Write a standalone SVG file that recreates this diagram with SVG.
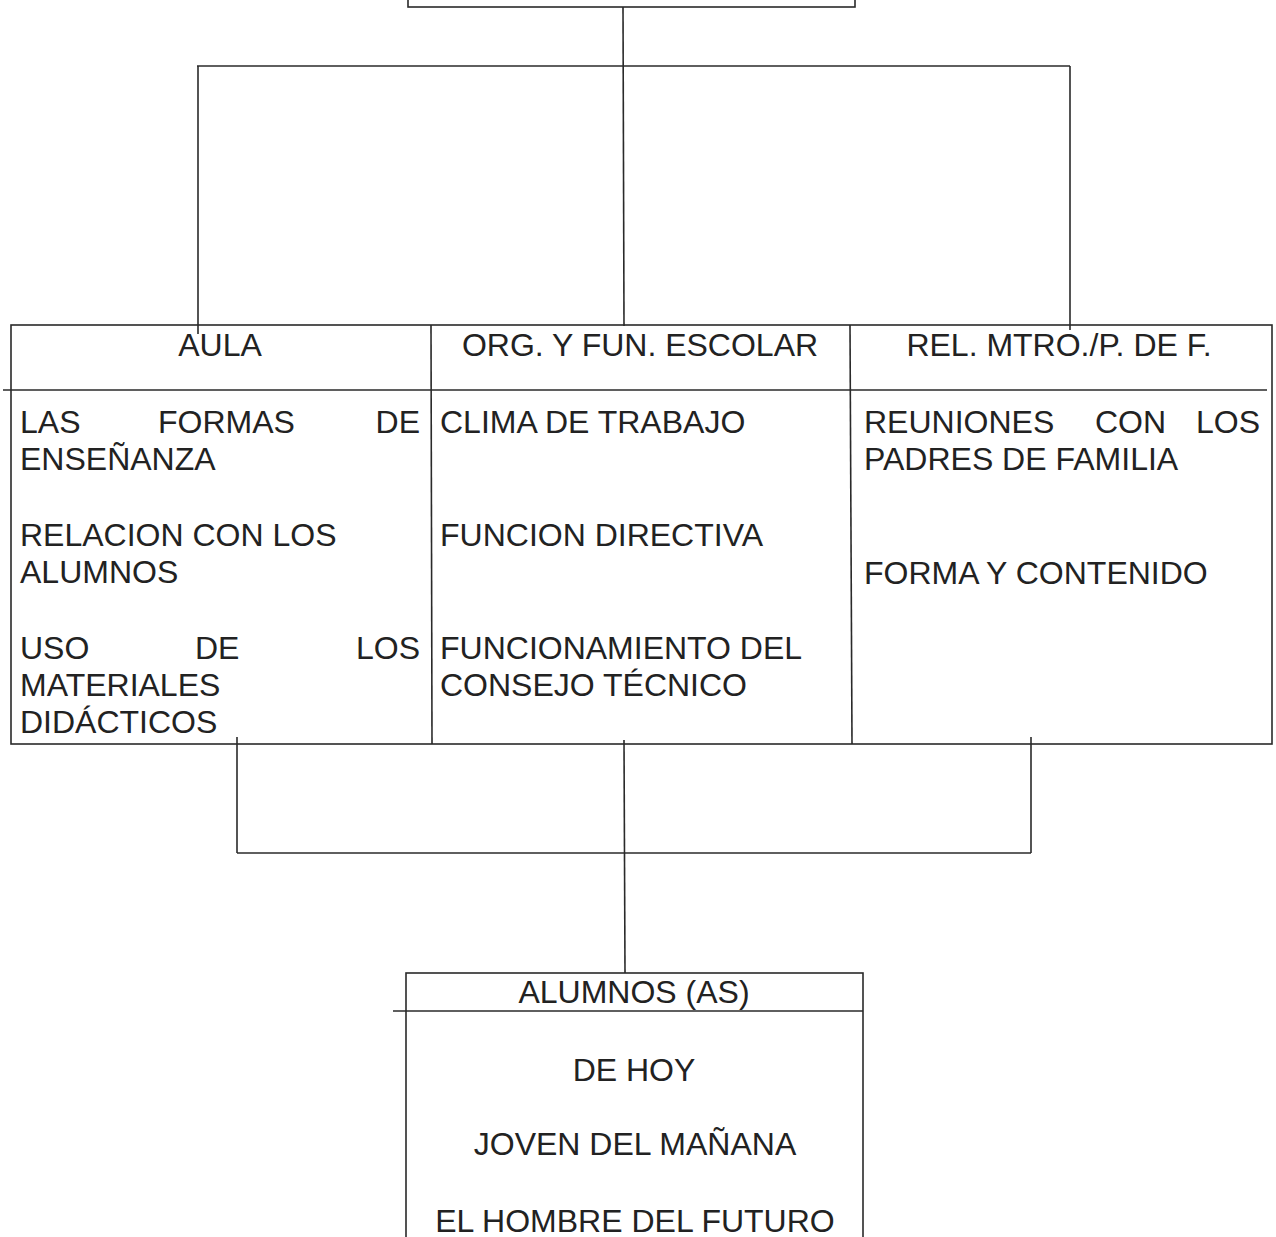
<svg xmlns="http://www.w3.org/2000/svg" width="1276" height="1237" viewBox="0 0 1276 1237">
<style>
.ln{stroke:#2a2a2a;stroke-width:1.6;fill:none}
.bx{stroke:#2a2a2a;stroke-width:1.6;fill:none}
text{font-family:"Liberation Sans",Arial,sans-serif;font-size:32px;fill:#222}
.c{text-anchor:middle}
.e{text-anchor:end}
</style>
<rect width="1276" height="1237" fill="#fff"/>
<g id="top-node">
<rect class="bx" x="408" y="-30" width="447" height="37"/>
</g>
<g id="connectors">
<line class="ln" x1="623" y1="7" x2="624" y2="326"/>
<line class="ln" x1="197" y1="66" x2="1070" y2="66"/>
<line class="ln" x1="198" y1="66" x2="198" y2="334"/>
<line class="ln" x1="1070" y1="66" x2="1070" y2="330"/>
<line class="ln" x1="237" y1="737" x2="237" y2="853"/>
<line class="ln" x1="1031" y1="737" x2="1031" y2="853"/>
<line class="ln" x1="237" y1="853" x2="1031" y2="853"/>
<line class="ln" x1="624" y1="740" x2="625" y2="973"/>
</g>
<g id="table">
<rect class="bx" x="11" y="325" width="1261" height="419"/>
<line class="ln" x1="3" y1="390" x2="1267" y2="390"/>
<line class="ln" x1="431" y1="325" x2="432" y2="744"/>
<line class="ln" x1="850" y1="325" x2="852" y2="744"/>
</g>
<g id="aula">
<text class="c" x="220" y="356">AULA</text>
<text x="20" y="433">LAS</text>
<text x="158" y="433">FORMAS</text>
<text class="e" x="420" y="433">DE</text>
<text x="20" y="470">ENSEÑANZA</text>
<text x="20" y="546">RELACION CON LOS</text>
<text x="20" y="583">ALUMNOS</text>
<text x="20" y="659">USO</text>
<text x="195" y="659">DE</text>
<text class="e" x="420" y="659">LOS</text>
<text x="20" y="696">MATERIALES</text>
<text x="20" y="733">DIDÁCTICOS</text>
</g>
<g id="org">
<text class="c" x="640" y="356">ORG. Y FUN. ESCOLAR</text>
<text x="440" y="433">CLIMA DE TRABAJO</text>
<text x="440" y="546">FUNCION DIRECTIVA</text>
<text x="440" y="659">FUNCIONAMIENTO DEL</text>
<text x="440" y="696">CONSEJO TÉCNICO</text>
</g>
<g id="rel">
<text class="c" x="1059" y="356">REL. MTRO./P. DE F.</text>
<text x="864" y="433">REUNIONES</text>
<text x="1095" y="433">CON</text>
<text class="e" x="1260" y="433">LOS</text>
<text x="864" y="470">PADRES DE FAMILIA</text>
<text x="864" y="584">FORMA Y CONTENIDO</text>
</g>
<g id="alumnos">
<rect class="bx" x="406" y="973" width="457" height="300"/>
<line class="ln" x1="393" y1="1011" x2="863" y2="1011"/>
<text class="c" x="634" y="1003">ALUMNOS (AS)</text>
<text class="c" x="634" y="1081">DE HOY</text>
<text class="c" x="635" y="1155">JOVEN DEL MAÑANA</text>
<text class="c" x="635" y="1232">EL HOMBRE DEL FUTURO</text>
</g>
</svg>
